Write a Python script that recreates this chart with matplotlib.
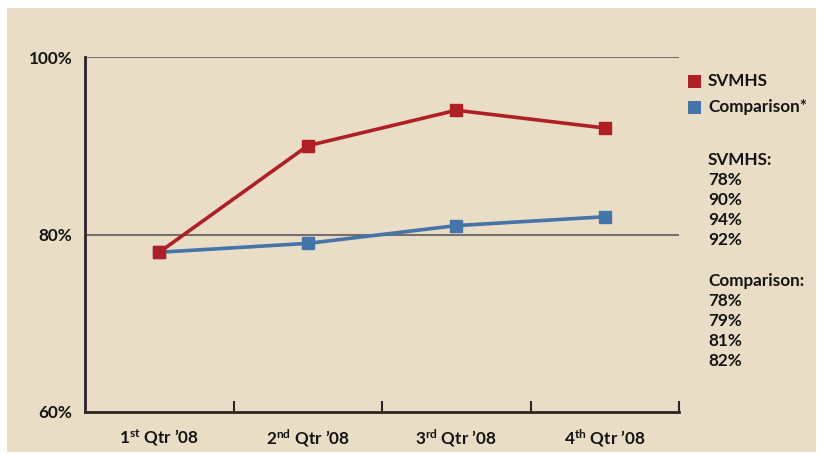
import matplotlib.pyplot as plt
from matplotlib.patches import Rectangle

quarters = ["1", "2", "3", "4"]
suffixes = ["st", "nd", "rd", "th"]
svmhs = [78, 90, 94, 92]
comparison = [78, 79, 81, 82]

plt.rcParams['font.family'] = ['Lato']
plt.rcParams['font.weight'] = 'bold'
plt.rcParams['mathtext.fontset'] = 'custom'
plt.rcParams['mathtext.rm'] = 'Lato:bold'
plt.rcParams['mathtext.default'] = 'rm'

bg = '#EADDC6'
red = '#B01F24'
blue = '#4474A8'
txt = '#141414'
fs = 12.3

fig = plt.figure(figsize=(8.18, 4.54), dpi=100, facecolor='white')
fig.patches.append(Rectangle((7 / 818, 2 / 454), 809 / 818, 444 / 454,
                             transform=fig.transFigure, facecolor=bg,
                             edgecolor='none', zorder=-10))

ax = fig.add_axes([85 / 818, 1 - 412 / 454, 594 / 818, 355 / 454])
ax.set_facecolor(bg)
ax.patch.set_alpha(0)

x = list(range(len(svmhs)))
ax.plot(x, comparison, color=blue, lw=2.6, marker='s', ms=8, zorder=3)
ax.plot(x, svmhs, color=red, lw=2.6, marker='s', ms=8, zorder=4)

ax.set_xlim(-0.5, 3.5)
ax.set_ylim(60, 100)
for yv in [80, 100]:
    ax.axhline(yv, color='#77706A', lw=1.5, zorder=1)

for s in ['top', 'right']:
    ax.spines[s].set_visible(False)
for s in ['left', 'bottom']:
    ax.spines[s].set_color('#2A2623')
    ax.spines[s].set_linewidth(2)

ax.set_yticks([60, 80, 100])
ax.set_yticklabels(['60%', '80%', '100%'], fontsize=fs, color=txt)
ax.tick_params(axis='y', length=0, pad=9)

ax.set_xticks(x)
ax.set_xticklabels([f"{q}$^{{{s}}}$ Qtr \u201908" for q, s in zip(quarters, suffixes)],
                   fontsize=fs, color=txt)
ax.tick_params(axis='x', length=0, pad=11)
ax.set_xticks([0.5, 1.5, 2.5, 3.5], minor=True)
ax.tick_params(axis='x', which='minor', direction='in', length=8, width=1.5,
               color='#2A2623')

# legend squares and labels
fig.patches.append(Rectangle((688 / 818, 1 - 88 / 454), 13 / 818, 13 / 454,
                             transform=fig.transFigure, facecolor=red))
fig.patches.append(Rectangle((688 / 818, 1 - 114 / 454), 13 / 818, 13 / 454,
                             transform=fig.transFigure, facecolor=blue))
fig.text(708 / 818, 1 - 81 / 454, "SVMHS", fontsize=fs, va='center', color=txt)
fig.text(708 / 818, 1 - 107 / 454, "Comparison*", fontsize=fs, va='center', color=txt)

lines = ["SVMHS:"] + [f"{v}%" for v in svmhs] + [""] + ["Comparison:"] + [f"{v}%" for v in comparison]
for i, t in enumerate(lines):
    fig.text(708 / 818, 1 - (160 + 20.1 * i) / 454, t, fontsize=fs, va='center', color=txt)

fig.savefig("out.png", dpi=100, facecolor='white')
